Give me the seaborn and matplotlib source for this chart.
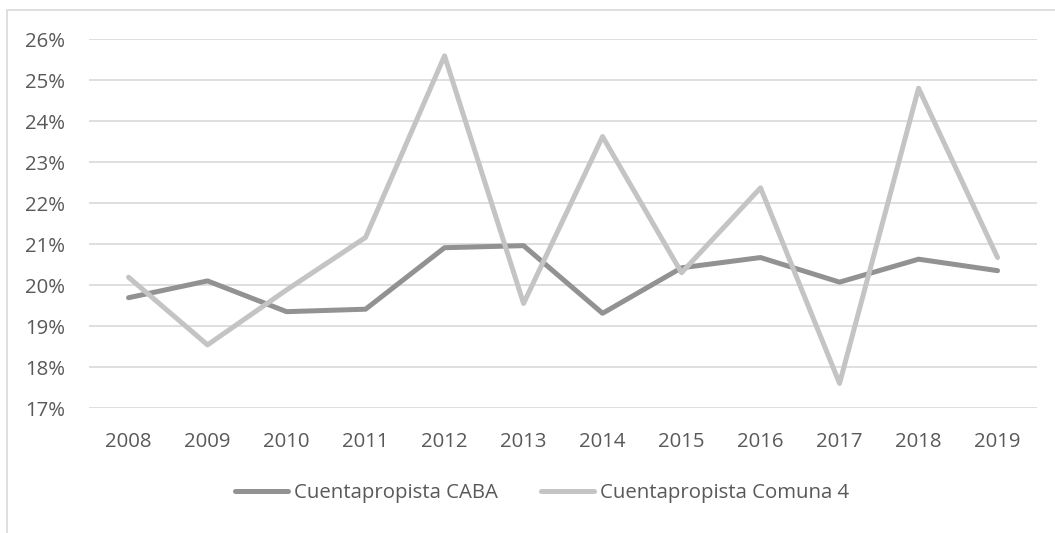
import pandas as pd
import seaborn as sns
import matplotlib.pyplot as plt
from matplotlib.patches import Rectangle
from matplotlib.ticker import PercentFormatter

years = ['2008', '2009', '2010', '2011', '2012', '2013',
         '2014', '2015', '2016', '2017', '2018', '2019']
caba = [19.69, 20.10, 19.35, 19.41, 20.91, 20.96,
        19.31, 20.42, 20.67, 20.07, 20.63, 20.35]
comuna4 = [20.19, 18.54, 19.88, 21.16, 25.59, 19.55,
           23.62, 20.30, 22.37, 17.60, 24.80, 20.67]
series_names = ['Cuentapropista CABA', 'Cuentapropista Comuna 4']
series_colors = ['#929292', '#c4c4c4']

df = pd.DataFrame({'anio': years * 2,
                   'valor': caba + comuna4,
                   'serie': [series_names[0]] * len(years) + [series_names[1]] * len(years)})

sns.set_style('white')
plt.rcParams['font.family'] = ['Open Sans', 'DejaVu Sans']
text_col = '#595959'
fs = 14.7

fig = plt.figure(figsize=(10.55, 5.33), dpi=100)
ax = fig.add_axes([0.0844, 0.2345, 0.8986, 0.6923])

sns.lineplot(data=df, x='anio', y='valor', hue='serie', palette=series_colors,
             linewidth=3.6, ax=ax, sort=False, legend=True)

ax.set_xlim(-0.5, len(years) - 0.5)
ax.set_ylim(17, 26)
ax.set_yticks(range(17, 27))
ax.yaxis.set_major_formatter(PercentFormatter(decimals=0))
ax.grid(axis='y', color='#d9d9d9', linewidth=1.2)
ax.set_axisbelow(True)
for s in ax.spines.values():
    s.set_visible(False)
ax.set_xlabel('')
ax.set_ylabel('')
ax.tick_params(axis='both', length=0, labelsize=fs, labelcolor=text_col)
ax.tick_params(axis='x', pad=17)
ax.tick_params(axis='y', pad=17)

leg = ax.legend(loc='upper center', bbox_to_anchor=(0.478, -0.153), ncol=2, frameon=False,
                fontsize=fs, handlelength=2.6, handletextpad=0.3, columnspacing=2.1)
for t in leg.get_texts():
    t.set_color(text_col)

fig.patches.append(Rectangle((7 / 1055, -0.1), 1.2, 1 - 10 / 533 + 0.1,
                             transform=fig.transFigure, fill=False,
                             edgecolor='#d9d9d9', linewidth=1.2))

fig.savefig('out.png', dpi=100)
